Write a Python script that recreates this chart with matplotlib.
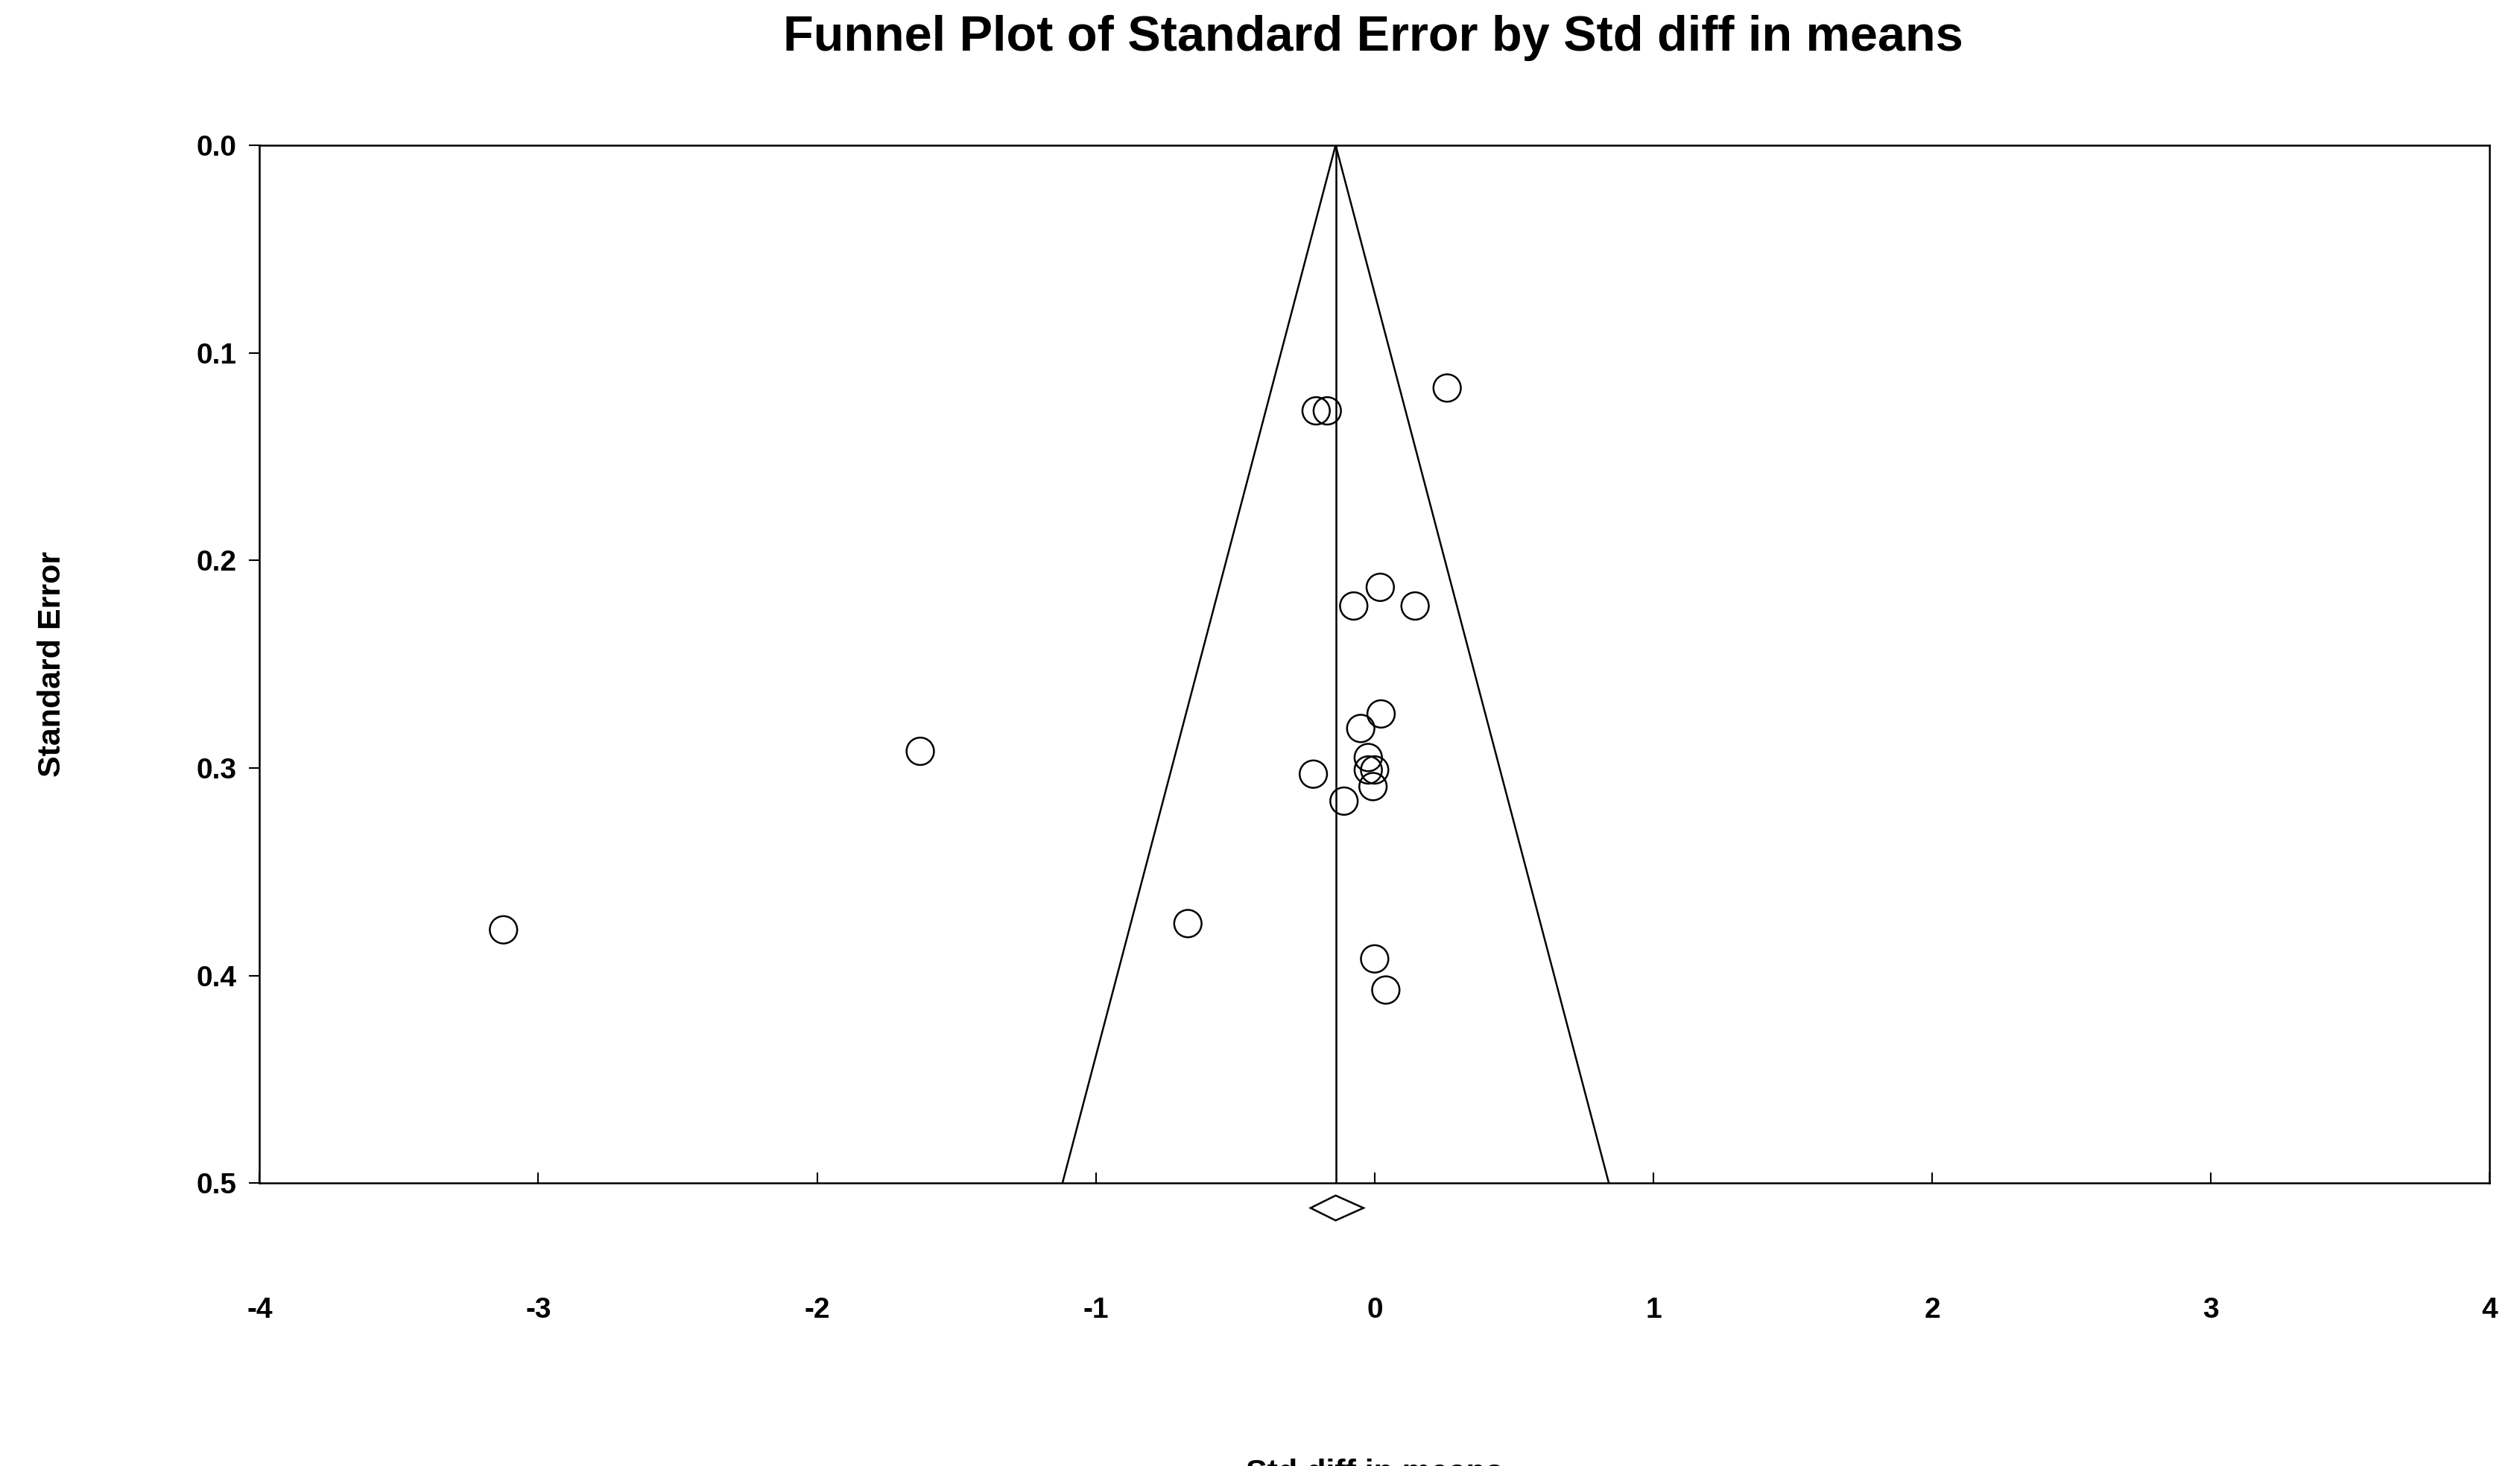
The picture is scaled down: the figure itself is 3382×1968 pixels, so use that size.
import matplotlib
matplotlib.use("Agg")
import matplotlib.pyplot as plt
import numpy as np

effect = [-0.21, -0.17, 0.26, 0.02, -0.075, 0.145, 0.023, -0.05, -1.63, -0.023, -0.023, 0.0,
          -0.22, -0.006, -0.11, -3.125, -0.67, 0.0, 0.04]
se = [0.128, 0.128, 0.117, 0.213, 0.222, 0.222, 0.274, 0.281, 0.292, 0.295, 0.301, 0.301,
      0.303, 0.309, 0.316, 0.378, 0.375, 0.392, 0.407]
pooled = -0.14
ci = [-0.23, -0.04]
xticks = [-4, -3, -2, -1, 0, 1, 2, 3, 4]
yticks = [0.0, 0.1, 0.2, 0.3, 0.4, 0.5]

plt.rcParams['font.family'] = ['Liberation Sans', 'DejaVu Sans']
fig = plt.figure(figsize=(33.82, 19.68), dpi=100)
ax = fig.add_axes([0.103, 0.193, 0.885, 0.708])
ax.set_xlim(-4, 4)
ax.set_ylim(0.5, 0.0)

ymax = 0.5
ax.plot([pooled - 1.96 * ymax, pooled, pooled + 1.96 * ymax], [ymax, 0, ymax], color='black', lw=1.8)
ax.plot([pooled, pooled], [0, ymax], color='black', lw=1.8)
ax.scatter(effect, se, s=700, facecolors='none', edgecolors='black', linewidths=1.8, zorder=3)
ax.fill([ci[0], pooled, ci[1], pooled], [0.512, 0.506, 0.512, 0.518], facecolor='white',
        edgecolor='black', lw=1.8, clip_on=False)

ax.set_xticks(xticks)
ax.set_xticklabels([str(t) for t in xticks], fontsize=28, fontweight='bold')
ax.set_yticks(yticks)
ax.set_yticklabels([f"{t:.1f}" for t in yticks], fontsize=28, fontweight='bold')
ax.tick_params(axis='x', direction='in', length=10, width=1.5, pad=110)
ax.tick_params(axis='y', direction='out', length=10, width=1.5, pad=12)
for s in ax.spines.values():
    s.set_linewidth(1.8)

ax.set_xlabel('Std diff in means', fontsize=31, fontweight='bold', labelpad=130)
ax.set_ylabel('Standard Error', fontsize=31, fontweight='bold', labelpad=125)
fig.suptitle('Funnel Plot of Standard Error by Std diff in means', fontsize=48,
             fontweight='bold', x=0.545, y=0.99)
fig.savefig('out.png', dpi=100)
